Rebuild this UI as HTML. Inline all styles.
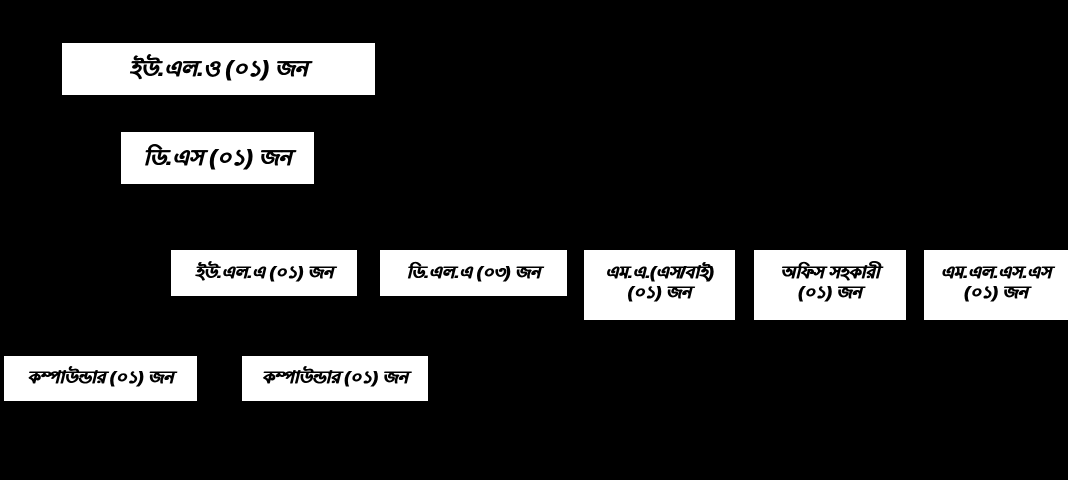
<!DOCTYPE html>
<html><head><meta charset="utf-8"><style>
body{margin:0;width:1068px;height:480px;background:#000;position:relative;overflow:hidden;font-family:"Liberation Sans","Noto Sans CJK SC",sans-serif;}
.b{position:absolute;background:#fff;color:#000;display:flex;align-items:center;justify-content:center;text-align:center;font-weight:bold;font-style:italic;line-height:1.2;text-shadow:0.6px 0 0 #000,-0.4px 0 0 #000;}
</style></head><body>
<div class="b" style="left:62px;top:43px;width:313px;height:52px;font-size:22px">ইউ.এল.ও (০১) জন</div>
<div class="b" style="left:121px;top:132px;width:193px;height:52px;font-size:22px">ডি.এস (০১) জন</div>
<div class="b" style="left:171px;top:250px;width:186px;height:46px;font-size:17px">ইউ.এল.এ (০১) জন</div>
<div class="b" style="left:380px;top:250px;width:187px;height:46px;font-size:17px">ডি.এল.এ (০৩) জন</div>
<div class="b" style="left:584px;top:250px;width:151px;height:70px;font-size:17px;padding-bottom:4px;box-sizing:border-box">এম.এ.(এস/বাই)<br>(০১) জন</div>
<div class="b" style="left:754px;top:250px;width:152px;height:70px;font-size:17px;padding-bottom:4px;box-sizing:border-box">অফিস সহকারী<br>(০১) জন</div>
<div class="b" style="left:924px;top:250px;width:144px;height:70px;font-size:17px;padding-bottom:4px;box-sizing:border-box">এম.এল.এস.এস<br>(০১) জন</div>
<div class="b" style="left:4px;top:356px;width:193px;height:45px;font-size:17px">কম্পাউন্ডার (০১) জন</div>
<div class="b" style="left:242px;top:356px;width:186px;height:45px;font-size:17px">কম্পাউন্ডার (০১) জন</div>
</body></html>
